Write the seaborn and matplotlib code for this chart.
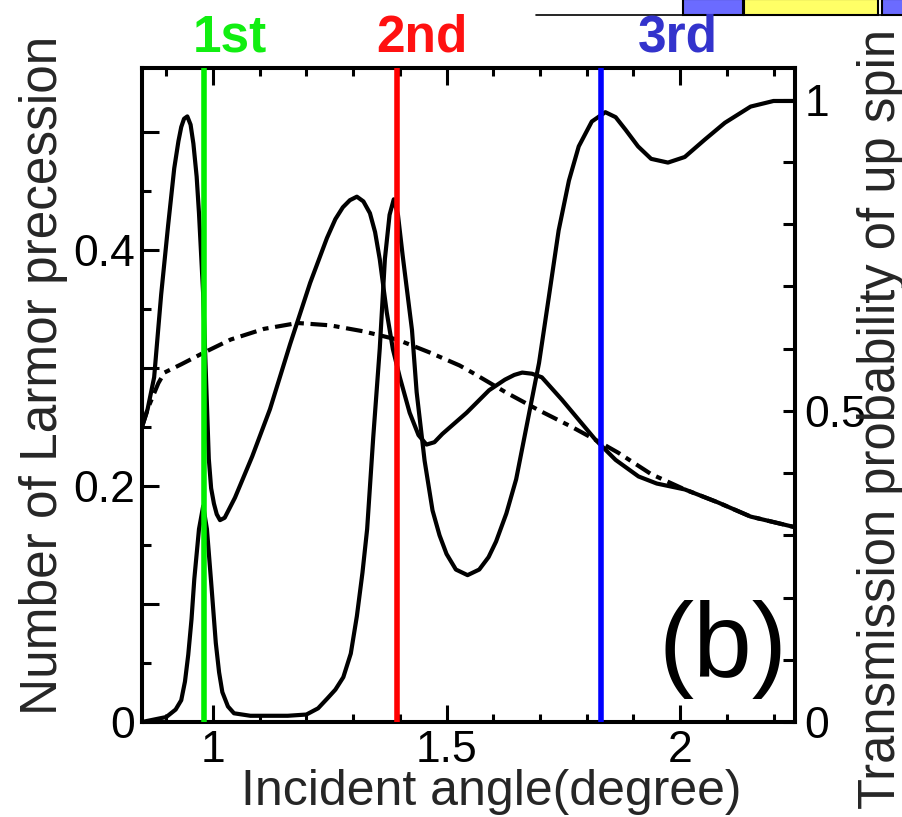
import numpy as np
import pandas as pd
import matplotlib
matplotlib.use("Agg")
import matplotlib.pyplot as plt
import seaborn as sns
from matplotlib.patches import Rectangle
from matplotlib.lines import Line2D

# ---------------- data ----------------
angle_larmor = [0.848, 0.86, 0.874, 0.889, 0.904, 0.917, 0.926, 0.932, 0.938, 0.945, 0.952,
                0.958, 0.965, 0.97, 0.979, 0.985, 0.991, 0.996, 1.002, 1.008, 1.015, 1.025,
                1.047, 1.084, 1.122, 1.165, 1.208, 1.244, 1.262, 1.278, 1.293, 1.308, 1.322,
                1.336, 1.347, 1.357, 1.372, 1.385, 1.4, 1.421, 1.44, 1.457, 1.474, 1.491,
                1.543, 1.591, 1.625, 1.645, 1.662, 1.683, 1.704, 1.747, 1.783, 1.819, 1.862,
                1.911, 1.95, 2.01, 2.081, 2.151, 2.246]
larmor = [0.25, 0.265, 0.292, 0.362, 0.421, 0.469, 0.492, 0.504, 0.511, 0.513, 0.506,
          0.49, 0.462, 0.431, 0.362, 0.292, 0.223, 0.198, 0.185, 0.176, 0.171, 0.173,
          0.19, 0.225, 0.265, 0.32, 0.372, 0.41, 0.426, 0.436, 0.442, 0.445, 0.441,
          0.431, 0.415, 0.392, 0.347, 0.316, 0.292, 0.262, 0.243, 0.235, 0.237, 0.244,
          0.262, 0.281, 0.29, 0.294, 0.296, 0.295, 0.292, 0.273, 0.256, 0.239, 0.222,
          0.208, 0.202, 0.197, 0.186, 0.174, 0.165]

angle_dashed = [0.848, 0.862, 0.883, 0.896, 0.932, 0.981, 1.038, 1.109, 1.181, 1.251, 1.321,
                1.394, 1.464, 1.528, 1.555, 1.628, 1.698, 1.768, 1.819, 1.868, 1.938, 2.01,
                2.081, 2.151, 2.246]
larmor_dashed = [0.25, 0.267, 0.287, 0.296, 0.303, 0.313, 0.324, 0.333, 0.338, 0.336, 0.331,
                 0.324, 0.313, 0.302, 0.296, 0.279, 0.264, 0.25, 0.239, 0.228, 0.21, 0.197,
                 0.186, 0.174, 0.165]

angle_trans = [0.848, 0.9, 0.92, 0.932, 0.94, 0.947, 0.954, 0.96, 0.97, 0.979, 0.987, 0.996,
               1.006, 1.013, 1.02, 1.032, 1.045, 1.08, 1.12, 1.16, 1.2, 1.225, 1.245, 1.262,
               1.279, 1.295, 1.308, 1.32, 1.33, 1.343, 1.357, 1.368, 1.378, 1.387, 1.396,
               1.406, 1.416, 1.426, 1.436, 1.453, 1.47, 1.485, 1.5, 1.52, 1.545, 1.57, 1.59,
               1.606, 1.628, 1.649, 1.677, 1.698, 1.719, 1.74, 1.762, 1.783, 1.811, 1.84,
               1.862, 1.883, 1.91, 1.938, 1.974, 2.01, 2.053, 2.096, 2.151, 2.2, 2.246]
transmission = [0.0, 0.008, 0.02, 0.035, 0.065, 0.108, 0.165, 0.23, 0.31, 0.347, 0.31, 0.225,
                0.127, 0.08, 0.048, 0.025, 0.014, 0.01, 0.01, 0.01, 0.012, 0.022, 0.038, 0.052,
                0.072, 0.11, 0.17, 0.24, 0.31, 0.457, 0.6, 0.744, 0.815, 0.84, 0.815,
                0.75, 0.69, 0.63, 0.53, 0.42, 0.34, 0.30, 0.27, 0.245, 0.236, 0.245, 0.265,
                0.29, 0.335, 0.39, 0.497, 0.577, 0.683, 0.79, 0.87, 0.925, 0.965, 0.98,
                0.972, 0.952, 0.925, 0.905, 0.899, 0.908, 0.936, 0.963, 0.989, 0.998, 0.998]

resonance_names = ["1st", "2nd", "3rd"]
resonance_angles = [0.981, 1.394, 1.831]
resonance_colors = ["#00ee00", "#ff0000", "#0000ff"]
resonance_text_colors = ["#11ee11", "#ff1111", "#3333cc"]

x_tick_values = [1.0, 1.5, 2.0]
x_tick_labels = ["1", "1.5", "2"]
left_tick_values = [0.0, 0.1, 0.2, 0.3, 0.4, 0.5]
left_tick_labels = ["0", "", "0.2", "", "0.4", ""]
right_tick_values = [0.0, 0.1, 0.2, 0.3, 0.4, 0.5, 0.6, 0.7, 0.8, 0.9, 1.0]
right_tick_labels = ["0", "", "", "", "", "0.5", "", "", "", "", "1"]

# ---------------- style ----------------
sns.set_theme(style="ticks")
plt.rcParams["font.family"] = ["Liberation Sans", "DejaVu Sans"]
plt.rcParams["axes.edgecolor"] = "black"
plt.rcParams["xtick.color"] = "black"
plt.rcParams["ytick.color"] = "black"
plt.rcParams["lines.solid_joinstyle"] = "round"
plt.rcParams["lines.solid_capstyle"] = "round"

W, H = 903, 817
fig = plt.figure(figsize=(W / 100, H / 100), dpi=100)
fig.patch.set_facecolor("white")
ax = fig.add_axes([142 / W, 1 - 722 / H, 653 / W, 654 / H])
ax2 = ax.twinx()

df_l = pd.DataFrame({"angle": angle_larmor, "value": larmor})
df_d = pd.DataFrame({"angle": angle_dashed, "value": larmor_dashed})
df_t = pd.DataFrame({"angle": angle_trans, "value": transmission})

lw = 3.0
sns.lineplot(data=df_d, x="angle", y="value", ax=ax, color="black", lw=lw,
             linestyle=(0, (4.0, 1.6, 1.4, 1.6)))
sns.lineplot(data=df_l, x="angle", y="value", ax=ax, color="black", lw=lw)
sns.lineplot(data=df_t, x="angle", y="value", ax=ax2, color="black", lw=lw)

for a, c in zip(resonance_angles, resonance_colors):
    ax2.axvline(a, color=c, lw=4.0, zorder=10)

ax.set_xlim(0.848, 2.246)
ax.set_ylim(0, 0.554)
ax2.set_ylim(0, 1.051)

# ticks
ax.set_xticks(x_tick_values)
ax.set_xticklabels(x_tick_labels)
ax.set_xticks(np.round(np.arange(0.9, 2.25, 0.1), 2), minor=True)
ax.set_yticks(left_tick_values)
ax.set_yticklabels(left_tick_labels)
ax.set_yticks(np.round(np.arange(0.05, 0.55, 0.1), 3), minor=True)
ax2.set_yticks(right_tick_values)
ax2.set_yticklabels(right_tick_labels)

ax.tick_params(axis="x", which="major", direction="in", length=12, width=2.2,
               labelsize=32, pad=6, top=True, bottom=True)
ax.tick_params(axis="x", which="minor", direction="in", length=6, width=2.2,
               top=True, bottom=True)
ax.tick_params(axis="y", which="major", direction="in", length=12, width=2.2,
               labelsize=32, pad=5, left=True, right=False)
ax.tick_params(axis="y", which="minor", direction="in", length=6.5, width=2.2,
               left=True, right=False)
ax2.tick_params(axis="y", which="major", direction="in", length=9, width=2.2,
                labelsize=32, pad=7, right=True, left=False)

for a_ in (ax, ax2):
    for s in a_.spines.values():
        s.set_linewidth(2.9)
        s.set_color("black")
        s.set_visible(True)

# axis labels
ax.set_xlabel("Incident angle(degree)", fontsize=36)
ax.xaxis.set_label_coords((491 - 142) / 653, (722 - 805) / 654)
ax.xaxis.label.set_verticalalignment("baseline")
ax.set_ylabel("Number of Larmor precession", fontsize=37)
ax.yaxis.set_label_coords((57 - 142) / 653, (722 - 375) / 654)
ax.yaxis.label.set_verticalalignment("baseline")
ax2.set_ylabel("Transmission probability of up spin", fontsize=36.5, rotation=90)
ax2.yaxis.set_label_coords((895 - 142) / 653, (722 - 419) / 654)
ax2.yaxis.label.set_rotation_mode("anchor")
ax2.yaxis.label.set_verticalalignment("baseline")
ax2.yaxis.label.set_horizontalalignment("center")

ax.text((723 - 142) / 653, (722 - 677) / 654, "(b)", transform=ax.transAxes,
        ha="center", va="baseline", fontsize=76, color="black")

# resonance labels above the plot
for name, xc, col in zip(resonance_names, [230, 422, 678], resonance_text_colors):
    fig.text(xc / W, 1 - 52 / H, name, ha="center", va="baseline", fontsize=37,
             fontweight="bold", color=col)

# cropped decoration at the top right
fig.add_artist(Line2D([536 / W, 1.0], [1 - 15 / H, 1 - 15 / H], color="black", lw=1.2,
                      transform=fig.transFigure))
for x0, w, fc in [(683, 60, "#6b6bff"), (744, 134, "#ffff66"), (882, 40, "#6b6bff")]:
    fig.add_artist(Rectangle((x0 / W, 1 - 15 / H), w / W, 16 / H, transform=fig.transFigure,
                             facecolor=fc, edgecolor="black", lw=1.5))

fig.savefig("out.png", dpi=100, facecolor="white")
